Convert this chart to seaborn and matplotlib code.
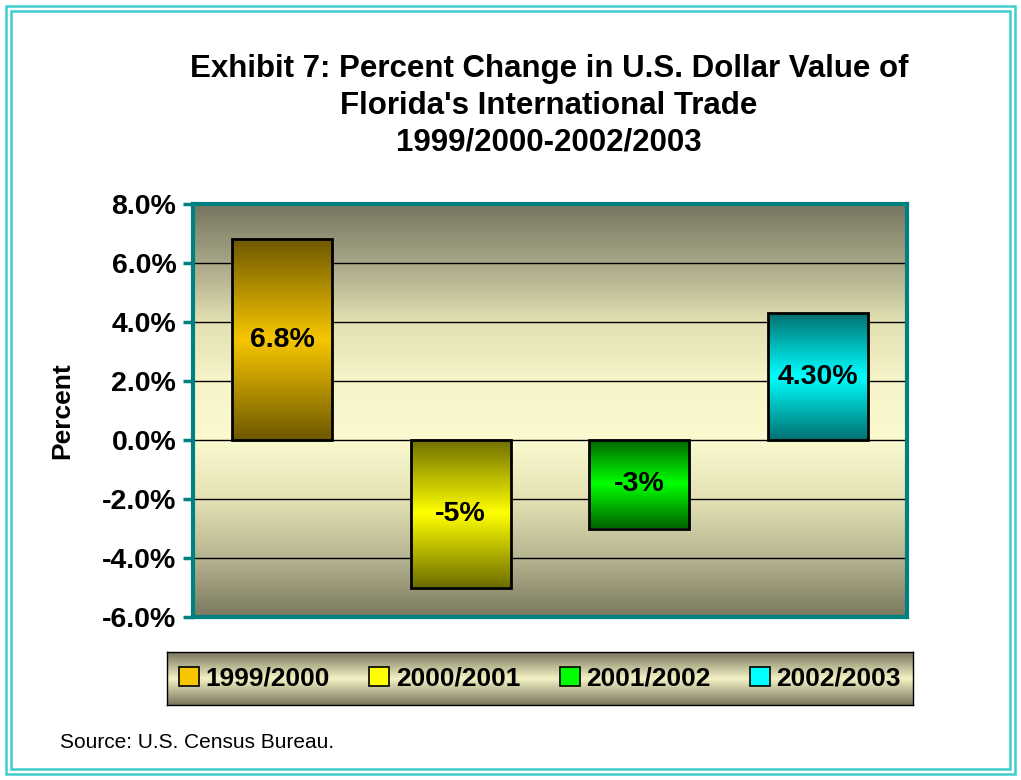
import numpy as np
import pandas as pd
import matplotlib
matplotlib.use('Agg')
import matplotlib.pyplot as plt
import seaborn as sns
from matplotlib.colors import LinearSegmentedColormap
from matplotlib.patches import Rectangle, Patch

# data
periods = ['1999/2000', '2000/2001', '2001/2002', '2002/2003']
changes = [6.8, -5.0, -3.0, 4.3]
bar_labels = ['6.8%', '-5%', '-3%', '4.30%']
yticks = [8, 6, 4, 2, 0, -2, -4, -6]

bright = ['#f7c600', '#ffff00', '#00ff00', '#00ffff']
dark = ['#6e5800', '#6e6e00', '#006400', '#007070']

df = pd.DataFrame({'Period': periods, 'Change': changes})

sns.set_theme(style='white')
plt.rcParams['font.family'] = ['Liberation Sans', 'DejaVu Sans']
plt.rcParams['text.color'] = 'black'
plt.rcParams['axes.labelcolor'] = 'black'
plt.rcParams['ytick.labelcolor'] = 'black'

fig = plt.figure(figsize=(10.21, 7.8), dpi=100)
W, H = 1021, 780
ax = fig.add_axes([193 / W, 1 - 617 / H, (907 - 193) / W, (617 - 204) / H])

ax = sns.barplot(data=df, x='Period', y='Change', hue='Period', palette=bright,
                 width=0.56, edgecolor='black', linewidth=2, legend=False, ax=ax, zorder=3)
ax.set_ylim(-6, 8)
ax.set_xlim(-0.5, 3.5)

# background gradient of plot area
bg = LinearSegmentedColormap.from_list('bg', [
    (0.0, '#7b795f'), (1 / 7, '#b7b591'), (2 / 7, '#e4e2b4'), (3 / 7, '#fbfad0'),
    (4 / 7, '#f6f4c8'), (5 / 7, '#e3e1b3'), (6 / 7, '#a9a787'), (1.0, '#777560')])
grad = np.linspace(0, 1, 256).reshape(-1, 1)
ax.imshow(grad, cmap=bg, aspect='auto', extent=(-0.5, 3.5, -6, 8), origin='lower', zorder=0)

# gradient fill inside each bar
for i, p in enumerate(ax.patches):
    cm = LinearSegmentedColormap.from_list('b%d' % i, [dark[i], bright[i], dark[i]])
    x0, y0 = p.get_x(), p.get_y()
    w, h = p.get_width(), p.get_height()
    im = ax.imshow(grad, cmap=cm, aspect='auto', origin='lower',
                   extent=(x0, x0 + w, min(y0, y0 + h), max(y0, y0 + h)), zorder=3.5)
    im.set_clip_path(p)
    p.set_zorder(4)
    p.set_facecolor('none')
    ax.text(x0 + w / 2, changes[i] / 2, bar_labels[i], ha='center', va='center',
            fontsize=20.5, fontweight='bold', zorder=5)

ax.set_xlim(-0.5, 3.5)
ax.set_ylim(-6, 8)
for y in yticks:
    ax.axhline(y, color='black', lw=1, zorder=1)

ax.set_yticks(yticks)
ax.set_yticklabels(['%.1f%%' % y for y in yticks], fontsize=20.5, fontweight='bold')
ax.set_xticks([])
ax.set_xlabel('')
ax.set_ylabel('Percent', fontsize=19, fontweight='bold', labelpad=20)
ax.tick_params(axis='y', left=True, length=7, width=2.5, color='#008080', pad=5)
for s in ax.spines.values():
    s.set_visible(True)
    s.set_color('#008080')
    s.set_linewidth(3)

fig.text(549 / W, 1 - 106 / H,
         "Exhibit 7: Percent Change in U.S. Dollar Value of\nFlorida's International Trade\n1999/2000-2002/2003",
         ha='center', va='center', fontsize=22.5, fontweight='bold', linespacing=1.3)

# legend box with gradient
lax = fig.add_axes([167 / W, 1 - 705 / H, (913 - 167) / W, (705 - 652) / H])
lg = LinearSegmentedColormap.from_list('lg', ['#77755c', '#f4f2c4', '#77755c'])
lax.imshow(grad, cmap=lg, aspect='auto', extent=(0, 1, 0, 1), origin='lower')
lax.set_xticks([])
lax.set_yticks([])
for s in lax.spines.values():
    s.set_visible(True)
    s.set_color('black')
    s.set_linewidth(1)
handles = [Patch(facecolor=bright[i], edgecolor='black', linewidth=1.2, label=periods[i])
           for i in range(len(periods))]
lax.legend(handles=handles, loc='center', ncol=4, frameon=False, handlelength=0.75,
           handleheight=0.75, handletextpad=0.25, columnspacing=1.5,
           prop={'size': 19, 'weight': 'bold'})

fig.text(60 / W, 1 - 743 / H, 'Source: U.S. Census Bureau.', ha='left', va='center', fontsize=15)

# double turquoise border
for inset in (6, 11):
    fig.patches.append(Rectangle((inset / W, inset / H), 1 - 2 * inset / W, 1 - 2 * inset / H,
                                 transform=fig.transFigure, fill=False,
                                 edgecolor='#40cccc', linewidth=1.8))

fig.savefig('out.png', dpi=100)
